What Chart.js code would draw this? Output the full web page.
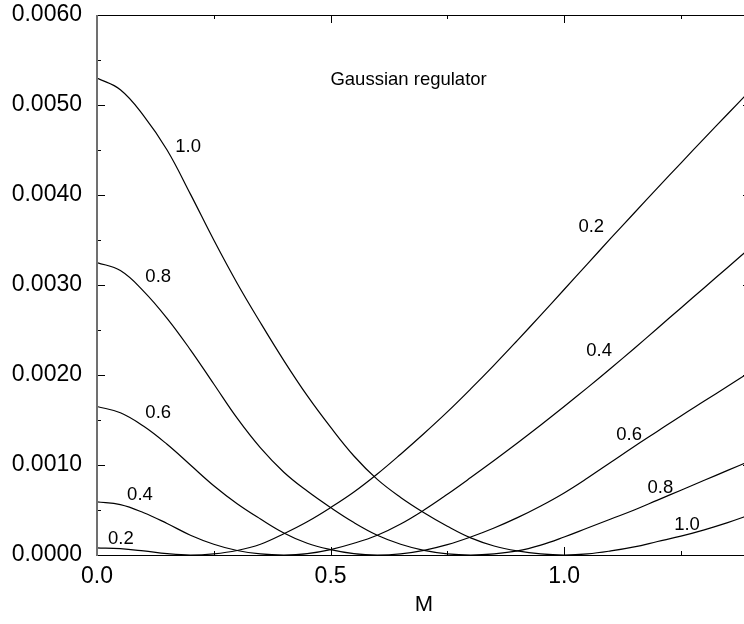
<!DOCTYPE html>
<html>
<head>
<meta charset="utf-8">
<script src="https://cdn.jsdelivr.net/npm/chart.js@4.4.1/dist/chart.umd.min.js"></script>
<style>
html, body { margin: 0; padding: 0; background: #fff; overflow: hidden; }
#wrap { width: 760px; height: 624px; }
</style>
</head>
<body>
<div id="wrap"><canvas id="myChart" width="760" height="624"></canvas></div>
<script>
// M grid and the five curves (labelled by the parameter 0.2 ... 1.0)
const mass = [0, 0.05, 0.10, 0.15, 0.20, 0.25, 0.30, 0.35, 0.40, 0.45, 0.50, 0.55, 0.60, 0.65, 0.70,
    0.75, 0.80, 0.85, 0.90, 0.95, 1.00, 1.05, 1.10, 1.15, 1.20, 1.25, 1.30, 1.35, 1.40];

const curve02 = [0.000080, 0.000070, 0.000045, 0.000015, 0, 0.000013, 0.000050, 0.000120, 0.000237, 0.000370,
    0.000527, 0.000700, 0.000900, 0.001120, 0.001350, 0.001590, 0.001845, 0.002110, 0.002385, 0.002665,
    0.002950, 0.003235, 0.003520, 0.003800, 0.004080, 0.004355, 0.004630, 0.004900, 0.005170];
const curve04 = [0.000590, 0.000560, 0.000470, 0.000350, 0.000220, 0.000120, 0.000050, 0.000012, 0, 0.000015,
    0.000060, 0.000130, 0.000220, 0.000345, 0.000500, 0.000675, 0.000860, 0.001050, 0.001245, 0.001445,
    0.001650, 0.001860, 0.002075, 0.002295, 0.002520, 0.002745, 0.002970, 0.003195, 0.003420];
const curve06 = [0.001650, 0.001580, 0.001430, 0.001230, 0.001000, 0.000770, 0.000570, 0.000400, 0.000245, 0.000130,
    0.000060, 0.000015, 0, 0.000013, 0.000052, 0.000115, 0.000200, 0.000300, 0.000415, 0.000545,
    0.000690, 0.000855, 0.001030, 0.001205, 0.001375, 0.001545, 0.001710, 0.001875, 0.002040];
const curve08 = [0.003250, 0.003160, 0.002930, 0.002630, 0.002280, 0.001900, 0.001520, 0.001190, 0.000920, 0.000710,
    0.000527, 0.000360, 0.000220, 0.000120, 0.000052, 0.000013, 0, 0.000012, 0.000045, 0.000110,
    0.000200, 0.000300, 0.000400, 0.000500, 0.000610, 0.000720, 0.000830, 0.000940, 0.001050];
const curve10 = [0.005300, 0.005170, 0.004880, 0.004500, 0.004010, 0.003500, 0.003020, 0.002580, 0.002160, 0.001770,
    0.001420, 0.001100, 0.000840, 0.000640, 0.000470, 0.000320, 0.000190, 0.000100, 0.000045, 0.000012,
    0, 0.000012, 0.000045, 0.000090, 0.000150, 0.000210, 0.000280, 0.000360, 0.000450];

const xTickVals = [0, 0.5, 1.0];
const xTickLabels = ["0.0", "0.5", "1.0"];
const xMinorVals = [0.25, 0.75, 1.25];
const yTickVals = [0, 0.001, 0.002, 0.003, 0.004, 0.005, 0.006];
const yTickLabels = ["0.0000", "0.0010", "0.0020", "0.0030", "0.0040", "0.0050", "0.0060"];
const yMinorVals = [0.0005, 0.0015, 0.0025, 0.0035, 0.0045, 0.0055];

// curve labels, placed in data coordinates
const noteText = ["1.0", "0.8", "0.6", "0.4", "0.2", "0.2", "0.4", "0.6", "0.8", "1.0", "Gaussian regulator"];
const noteM = [0.195, 0.131, 0.131, 0.092, 0.051, 1.058, 1.075, 1.139, 1.206, 1.263, 0.667];
const noteV = [0.004535, 0.003086, 0.001574, 0.000663, 0.000174, 0.003641, 0.002263, 0.001330, 0.000741, 0.000330, 0.005280];

function pts(vals) {
    return mass.map((m, i) => ({ x: m, y: vals[i] }));
}

const series = [curve02, curve04, curve06, curve08, curve10];

const frameAndNotes = {
    id: "frameAndNotes",
    afterDatasetsDraw(chart) {
        const ctx = chart.ctx;
        const a = chart.chartArea;
        const x = chart.scales.x;
        const y = chart.scales.y;
        ctx.save();
        ctx.strokeStyle = "#000";
        ctx.lineWidth = 1;
        ctx.beginPath();
        ctx.moveTo(a.left, a.top + 0.5);
        ctx.lineTo(a.right, a.top + 0.5);
        ctx.moveTo(a.left, a.bottom + 0.5);
        ctx.lineTo(a.right, a.bottom + 0.5);
        ctx.moveTo(a.right - 0.5, a.top);
        ctx.lineTo(a.right - 0.5, a.bottom);
        function xt(v, len) {
            const px = Math.round(x.getPixelForValue(v)) + 0.5;
            ctx.moveTo(px, a.bottom);
            ctx.lineTo(px, a.bottom - len);
            ctx.moveTo(px, a.top);
            ctx.lineTo(px, a.top + len);
        }
        function yt(v, len) {
            const py = Math.round(y.getPixelForValue(v)) + 0.5;
            ctx.moveTo(a.left, py);
            ctx.lineTo(a.left + len, py);
            ctx.moveTo(a.right, py);
            ctx.lineTo(a.right - len, py);
        }
        xTickVals.forEach(v => xt(v, 8));
        xMinorVals.forEach(v => xt(v, 4));
        yTickVals.forEach(v => yt(v, 8));
        yMinorVals.forEach(v => yt(v, 4));
        ctx.stroke();

        ctx.strokeStyle = "#707070";
        ctx.lineWidth = 2;
        ctx.beginPath();
        ctx.moveTo(a.left, a.top);
        ctx.lineTo(a.left, a.bottom + 1);
        ctx.stroke();

        ctx.fillStyle = "#000";
        ctx.font = "18.5px 'Liberation Sans'";
        ctx.textAlign = "center";
        ctx.textBaseline = "middle";
        noteText.forEach((t, i) => {
            ctx.fillText(t, x.getPixelForValue(noteM[i]), y.getPixelForValue(noteV[i]));
        });
        ctx.restore();
    },
};

Chart.defaults.font.family = "'Liberation Sans', Arial, sans-serif";
Chart.defaults.color = "#000";

const ctx = document.getElementById("myChart").getContext("2d");
new Chart(ctx, {
    type: "line",
    data: {
        datasets: series.map(s => ({
            data: pts(s),
            borderColor: "#000",
            borderWidth: 1.2,
            pointRadius: 0,
            fill: false,
            tension: 0.4,
        })),
    },
    options: {
        responsive: false,
        animation: false,
        layout: { padding: { top: 15, right: 9, left: 0, bottom: 0 } },
        plugins: { legend: { display: false }, tooltip: { enabled: false } },
        scales: {
            x: {
                type: "linear",
                min: 0,
                max: 1.4,
                grid: { display: false, drawTicks: false },
                border: { display: false },
                afterBuildTicks: (scale) => { scale.ticks = xTickVals.map(v => ({ value: v })); },
                afterFit: (scale) => {
                    scale.height = 69;
                    scale.paddingLeft = 0;
                    scale.paddingRight = 0;
                },
                ticks: {
                    padding: 8,
                    maxRotation: 0,
                    font: { size: 23 },
                    callback: (v, i) => xTickLabels[i],
                },
                title: { display: true, text: "M", font: { size: 22 }, padding: { top: 4, bottom: 6 } },
            },
            y: {
                min: 0,
                max: 0.006,
                grid: { display: false, drawTicks: false },
                border: { display: false },
                afterBuildTicks: (scale) => { scale.ticks = yTickVals.map(v => ({ value: v })); },
                afterFit: (scale) => {
                    scale.width = 97;
                    scale.paddingTop = 0;
                    scale.paddingBottom = 0;
                },
                ticks: {
                    padding: 15,
                    font: { size: 23 },
                    callback: (v, i) => yTickLabels[i],
                },
            },
        },
    },
    plugins: [frameAndNotes],
});
</script>
</body>
</html>
